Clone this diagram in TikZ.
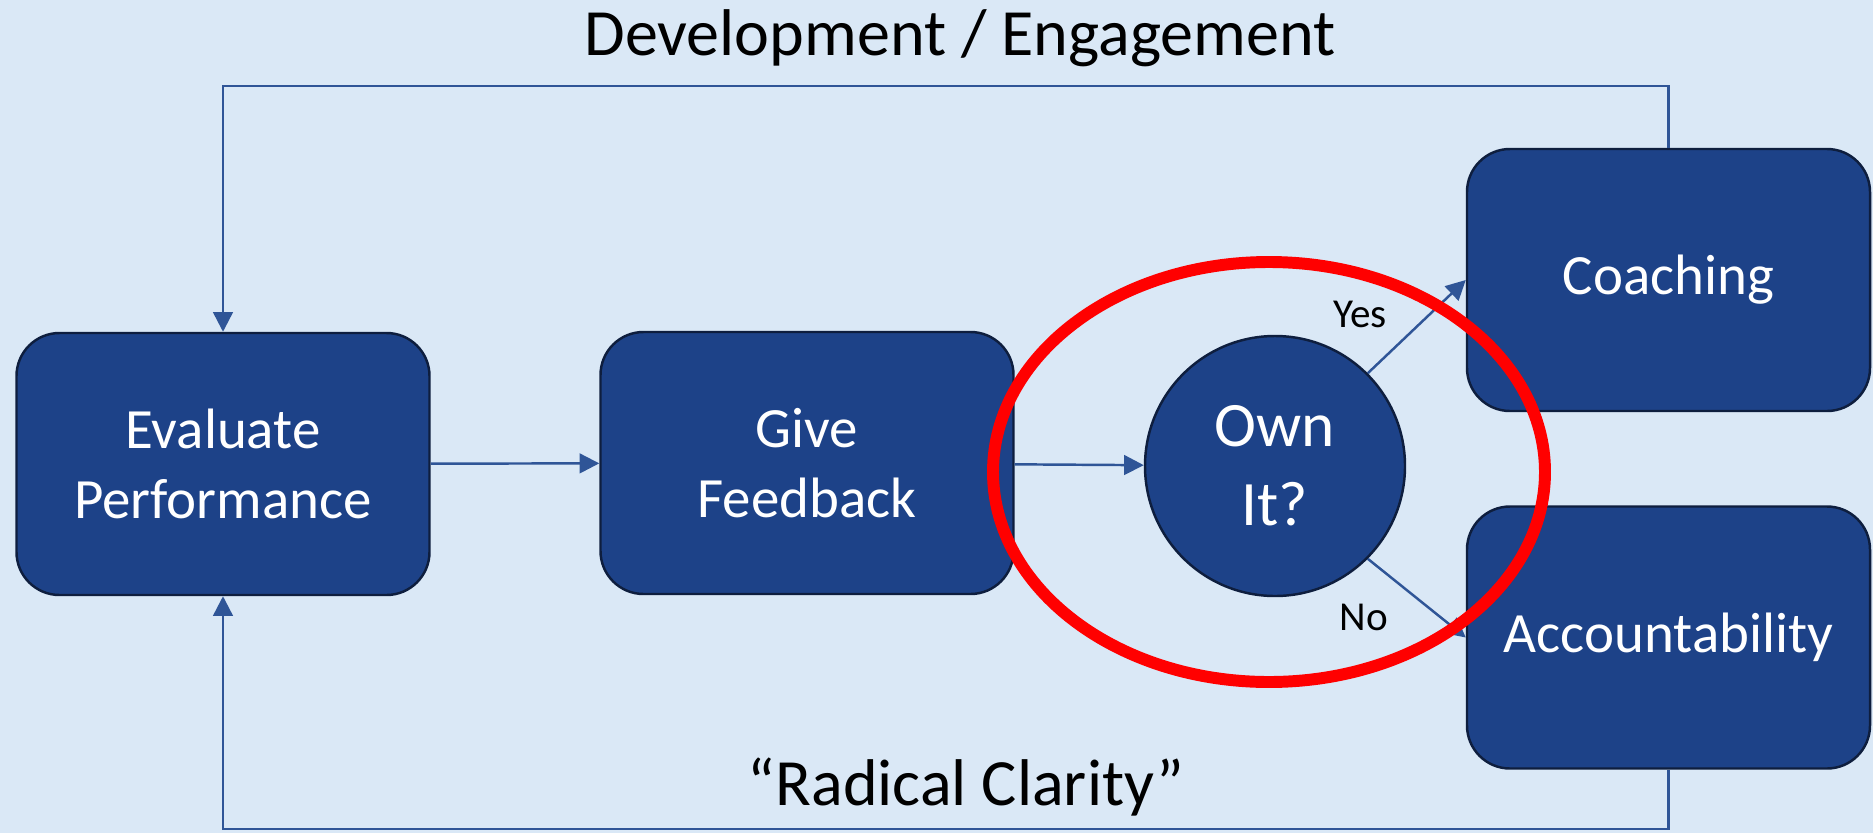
\documentclass[tikz,border=0pt]{standalone}
\usepackage{fontspec}
\setmainfont{Carlito}
\usetikzlibrary{arrows.meta}
\definecolor{bg_blue}{RGB}{218, 232, 246}
\definecolor{box_blue}{RGB}{29, 66, 136}
\definecolor{edge_navy}{RGB}{14, 30, 62}
\definecolor{line_blue}{RGB}{47, 85, 151}
\definecolor{mark_red}{RGB}{255, 0, 0}
\tikzstyle{box}=[rectangle,rounded corners=0.43cm,fill=box_blue,draw=edge_navy,
  line width=0.7pt,text=white,align=center,minimum width=4.13cm,minimum height=2.62cm,
  font=\fontsize{16.2}{20}\selectfont]
\tikzstyle{dec}=[circle,fill=box_blue,draw=edge_navy,line width=0.7pt,text=white,
  align=center,minimum size=2.6cm,inner sep=0pt,font=\fontsize{18}{22.4}\selectfont]
\tikzstyle{flow}=[draw=line_blue,line width=0.7pt,-{Triangle[length=5.6pt,width=5.6pt]}]
\tikzstyle{lbl}=[font=\fontsize{11.7}{14}\selectfont]
\tikzstyle{head}=[font=\fontsize{18.8}{22}\selectfont]

\begin{document}
\begin{tikzpicture}
    \useasboundingbox (0,0) rectangle (18.73,8.33);
    \fill [bg_blue] (0,0) rectangle (18.73,8.33);
    \node [style=box] (eval) at (2.23,3.69) {Evaluate\\Performance};
    \node [style=box] (feedback) at (8.07,3.70) {Give\\Feedback};
    \node [style=dec] (own) at (12.75,3.67) {Own\\It?};
    \node [style=box,minimum width=4.03cm] (coach) at (16.685,5.53) {Coaching};
    \node [style=box,minimum width=4.03cm] (acct) at (16.685,1.955) {Accountability};
    \coordinate (top_turn) at (2.23,7.47);
    \coordinate (bot_turn) at (2.23,0.04);
    \node [style=head] (title) at (9.60,7.95) {Development / Engagement};
    \node [style=head,anchor=base] (clarity) at (9.66,0.28) {“Radical Clarity”};
    \node [style=lbl] (yes) at (13.60,5.19) {Yes};
    \node [style=lbl] (no) at (13.64,2.16) {No};
    \draw [style=flow] (eval) to (feedback);
    \draw [style=flow] (feedback) to (own);
    \draw [style=flow] (own.45) to (coach.west);
    \draw [style=flow] (own.-45) to (acct.west);
    \draw [style=flow] (coach.north) |- (top_turn) -- (eval.north);
    \draw [style=flow] (acct.south) |- (bot_turn) -- (eval.south);
    % highlight round the decision
    \draw [mark_red,line width=3.4pt] (12.69,3.61) ellipse [x radius=2.76cm, y radius=2.10cm];
  \end{tikzpicture}
\end{document}
